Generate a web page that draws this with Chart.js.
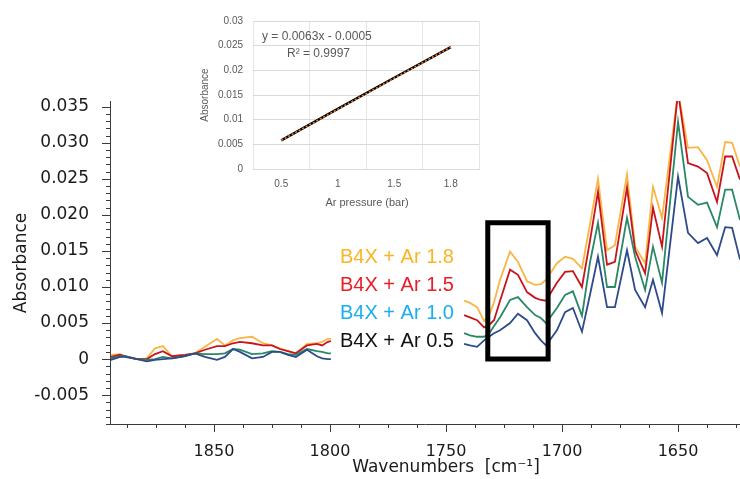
<!DOCTYPE html>
<html><head><meta charset="utf-8">
<script src="https://cdn.jsdelivr.net/npm/chart.js@4.4.1/dist/chart.umd.min.js"></script>
<style>
html,body{margin:0;padding:0;background:#fff;}
#wrap{position:relative;width:740px;height:479px;overflow:hidden;}
#main{position:absolute;left:0;top:0;}
#inset{position:absolute;left:175px;top:0;}
</style></head><body>
<div id="wrap">
<canvas id="main" width="740" height="479"></canvas>
<canvas id="inset" width="310" height="215"></canvas>
</div>
<script>
// ---------- main spectrum data ----------
const wavenumbers = [1894.4, 1890.5, 1888.4, 1883.2, 1878.9, 1875.4, 1872.0, 1868.1, 1862.5, 1858.2, 1853.9, 1848.7, 1845.3, 1841.8, 1838.8, 1833.6, 1828.9, 1825.0, 1821.6, 1818.1, 1814.7, 1809.9, 1805.6, 1803.4, 1800.9, 1799.6,
  1770,
  1742.2, 1739.7, 1736.6, 1733.6, 1731.5, 1729.3, 1726.7, 1722.4, 1719.0, 1715.1, 1711.6, 1709.1, 1706.9, 1702.2, 1698.7, 1695.3, 1691.4, 1687.9, 1684.5, 1680.6, 1677.2, 1672.0, 1668.5, 1664.2, 1660.8, 1656.9, 1650.0, 1645.7, 1641.4, 1637.5, 1633.2, 1629.7, 1626.7, 1623.3];
const absAr18 = [0.0006,0.0007,0.0004,0.0000,0.0001,0.0015,0.0018,0.0004,0.0006,0.0008,0.0017,0.0028,0.0019,0.0026,0.0029,0.0031,0.0022,0.0019,0.0015,0.0011,0.0008,0.0021,0.0022,0.0024,0.0028,0.0028,
  null,
  0.0081,0.0078,0.0072,0.0053,0.0060,0.0079,0.0110,0.0149,0.0135,0.0108,0.0103,0.0104,0.0110,0.0133,0.0142,0.0139,0.0126,0.0188,0.0250,0.0151,0.0158,0.0256,0.0156,0.0133,0.0239,0.0196,0.0371,0.0293,0.0294,0.0276,0.0239,0.0301,0.0300,0.0267];
const absAr15 = [0.0003,0.0006,0.0004,0.0000,0.0000,0.0007,0.0011,0.0004,0.0006,0.0008,0.0013,0.0018,0.0018,0.0022,0.0024,0.0022,0.0019,0.0019,0.0014,0.0011,0.0008,0.0019,0.0021,0.0019,0.0024,0.0025,
  null,
  0.0061,0.0058,0.0054,0.0044,0.0047,0.0054,0.0081,0.0124,0.0117,0.0093,0.0085,0.0082,0.0081,0.0106,0.0121,0.0122,0.0100,0.0165,0.0232,0.0131,0.0135,0.0238,0.0151,0.0119,0.0210,0.0156,0.0371,0.0272,0.0267,0.0258,0.0218,0.0281,0.0281,0.0249];
const absAr10 = [0.0001,0.0004,0.0004,0.0000,-0.0001,0.0000,0.0003,0.0001,0.0004,0.0008,0.0007,0.0007,0.0008,0.0014,0.0013,0.0007,0.0008,0.0011,0.0010,0.0007,0.0006,0.0014,0.0011,0.0010,0.0008,0.0008,
  null,
  0.0036,0.0033,0.0031,0.0031,0.0035,0.0046,0.0058,0.0082,0.0086,0.0072,0.0061,0.0057,0.0050,0.0071,0.0089,0.0094,0.0060,0.0135,0.0189,0.0100,0.0100,0.0196,0.0142,0.0096,0.0156,0.0106,0.0329,0.0225,0.0214,0.0217,0.0183,0.0235,0.0235,0.0193];
const absAr05 = [-0.0001,0.0003,0.0003,0.0000,-0.0003,-0.0001,0.0000,0.0001,0.0004,0.0008,0.0003,-0.0001,0.0003,0.0014,0.0010,0.0001,0.0003,0.0010,0.0010,0.0006,0.0003,0.0013,0.0004,0.0001,0.0000,0.0000,
  null,
  0.0021,0.0019,0.0017,0.0026,0.0031,0.0036,0.0040,0.0050,0.0063,0.0054,0.0036,0.0026,0.0019,0.0040,0.0065,0.0071,0.0038,0.0090,0.0142,0.0072,0.0072,0.0151,0.0096,0.0072,0.0110,0.0064,0.0253,0.0175,0.0161,0.0168,0.0144,0.0183,0.0182,0.0138];
const seriesLabels = ['B4X + Ar 1.8', 'B4X + Ar 1.5', 'B4X + Ar 1.0', 'B4X + Ar 0.5'];
const xTickValues = [1850, 1800, 1750, 1700, 1650];
const yTickValues = [-0.005, 0, 0.005, 0.010, 0.015, 0.020, 0.025, 0.030, 0.035];
// highlight box corners (wavenumber, absorbance)
const boxWavenumbers = [1732, 1732, 1706, 1706, 1732];
const boxAbsorbance = [0, 0.0189, 0.0189, 0, 0];

// ---------- inset data ----------
const insetCategories = ['0.5', '1', '1.5', '1.8'];
const insetAbsorbance = [0.0058, 0.0122, 0.0185, 0.0247];
const insetTrend = [0.0058, 0.0121, 0.0184, 0.0247];
const insetYTicks = [0, 0.005, 0.01, 0.015, 0.02, 0.025, 0.03];
const insetEquation = 'y = 0.0063x - 0.0005';
const insetR2 = 'R² = 0.9997';

const lineColors = ['#F9B645', '#C8141C', '#2A8867', '#2D4A8A'];
const labelColors = ['#FBB424', '#E81D25', '#1AAEEF', '#111111'];
const seriesValues = [absAr18, absAr15, absAr10, absAr05];

function toPoints(xs, ys) { return xs.map((x, i) => ({ x: x, y: ys[i] })); }

const mainDatasets = seriesValues.map((vals, i) => ({
  data: toPoints(wavenumbers, vals),
  borderColor: lineColors[i], borderWidth: 1.8, pointRadius: 0, tension: 0,
  spanGaps: false, order: 10 - i
}));
mainDatasets.push({
  data: toPoints(boxWavenumbers, boxAbsorbance),
  borderColor: '#000', borderWidth: 5, pointRadius: 0, tension: 0,
  borderJoinStyle: 'miter', borderCapStyle: 'square', order: 0, clip: false
});

const AXIS = '#3a3a3a';
const mainDecor = {
  id: 'mainDecor',
  afterDraw(chart) {
    const ctx = chart.ctx, xs = chart.scales.x, ys = chart.scales.y;
    const area = chart.chartArea;
    ctx.save();
    ctx.strokeStyle = AXIS; ctx.lineWidth = 1;
    ctx.beginPath();
    for (let i = -9; i <= 35; i++) {
      const major = (i % 5 === 0);
      const py = Math.round(ys.getPixelForValue(i / 1000)) + 0.5;
      ctx.moveTo(area.left - (major ? 8 : 4), py); ctx.lineTo(area.left, py);
    }
    for (let w = 1625; w <= 1890; w += 12.5) {
      const major = (w % 50 === 0);
      const px = Math.round(xs.getPixelForValue(w)) + 0.5;
      ctx.moveTo(px, area.bottom); ctx.lineTo(px, area.bottom + (major ? 8 : 4));
    }
    ctx.stroke();
    // axis titles
    ctx.fillStyle = '#1a1a1a';
    ctx.font = '17px "DejaVu Sans"';
    ctx.textAlign = 'center'; ctx.textBaseline = 'middle';
    ctx.fillText('Wavenumbers  [cm⁻¹]', 446, 468);
    ctx.save();
    ctx.translate(22, 263); ctx.rotate(-Math.PI / 2);
    ctx.fillText('Absorbance', 0, 0);
    ctx.restore();
    // text legend
    ctx.font = '20px "Liberation Sans"';
    ctx.textAlign = 'left';
    const ly = [257, 285, 313, 341];
    seriesLabels.forEach((t, i) => { ctx.fillStyle = labelColors[i]; ctx.fillText(t, 340, ly[i]); });
    ctx.restore();
  }
};

new Chart(document.getElementById('main'), {
  type: 'line',
  data: { datasets: mainDatasets },
  options: {
    responsive: false, animation: false, devicePixelRatio: 1,
    layout: { padding: { top: 101, left: 0, right: 0, bottom: 0 } },
    plugins: { legend: { display: false }, tooltip: { enabled: false } },
    scales: {
      x: {
        type: 'linear', reverse: true, min: 1623.3, max: 1894.8,
        afterBuildTicks(s) { s.ticks = xTickValues.map(v => ({ value: v })); },
        afterFit(s) { s.height = 55; },
        grid: { display: false },
        border: { display: true, color: AXIS },
        ticks: { font: { family: 'DejaVu Sans', size: 16 }, color: '#1a1a1a', padding: 10, maxRotation: 0, autoSkip: false,
          callback: v => String(v) }
      },
      y: {
        min: -0.009, max: 0.0358,
        afterBuildTicks(s) { s.ticks = yTickValues.map(v => ({ value: v })); },
        afterFit(s) { s.width = 110; },
        grid: { display: false },
        border: { display: true, color: AXIS },
        ticks: { font: { family: 'DejaVu Sans', size: 17 }, color: '#1a1a1a', padding: 13,
          callback: v => (Math.abs(v) < 1e-9 ? '0' : v.toFixed(3)) }
      }
    }
  },
  plugins: [mainDecor]
});

// ---------- inset ----------
const GRAYTXT = '#595959';
const insetDecor = {
  id: 'insetDecor',
  afterDraw(chart) {
    const ctx = chart.ctx;
    ctx.save();
    ctx.fillStyle = GRAYTXT;
    ctx.textBaseline = 'middle';
    ctx.font = '12px "Liberation Sans"';
    ctx.textAlign = 'left';
    ctx.fillText(insetEquation, 87, 37);
    ctx.fillText(insetR2, 112, 54);
    ctx.textAlign = 'center';
    ctx.font = '11px "Liberation Sans"';
    ctx.fillText('Ar pressure (bar)', 192, 203);
    ctx.font = '10px "Liberation Sans"';
    ctx.translate(30, 95); ctx.rotate(-Math.PI / 2);
    ctx.fillText('Absorbance', 0, 0);
    ctx.restore();
  }
};

new Chart(document.getElementById('inset'), {
  type: 'line',
  data: {
    labels: insetCategories,
    datasets: [
      { data: insetTrend, borderColor: '#ED7D31', borderDash: [2, 2], borderWidth: 1.5, pointRadius: 0, tension: 0, order: 0 },
      { data: insetAbsorbance, borderColor: '#000000', borderWidth: 2.5, pointRadius: 0, tension: 0, order: 1 }
    ]
  },
  options: {
    responsive: false, animation: false, devicePixelRatio: 1,
    layout: { padding: { top: 21, left: 0, right: 6, bottom: 0 } },
    plugins: { legend: { display: false }, tooltip: { enabled: false } },
    scales: {
      x: {
        type: 'category', offset: true,
        afterFit(s) { s.height = 46; },
        grid: { offset: true, color: '#e6e6e6', drawTicks: false },
        border: { display: true, color: '#d9d9d9' },
        ticks: { font: { family: 'Liberation Sans', size: 10 }, color: GRAYTXT, padding: 9 }
      },
      y: {
        min: 0, max: 0.03,
        afterBuildTicks(s) { s.ticks = insetYTicks.map(v => ({ value: v })); },
        afterFit(s) { s.width = 78; },
        grid: { color: '#d9d9d9', drawTicks: false },
        border: { display: false },
        ticks: { font: { family: 'Liberation Sans', size: 10 }, color: GRAYTXT, padding: 10,
          callback: v => String(+(+v).toFixed(3)) }
      }
    }
  },
  plugins: [insetDecor]
});
</script>
</body></html>
